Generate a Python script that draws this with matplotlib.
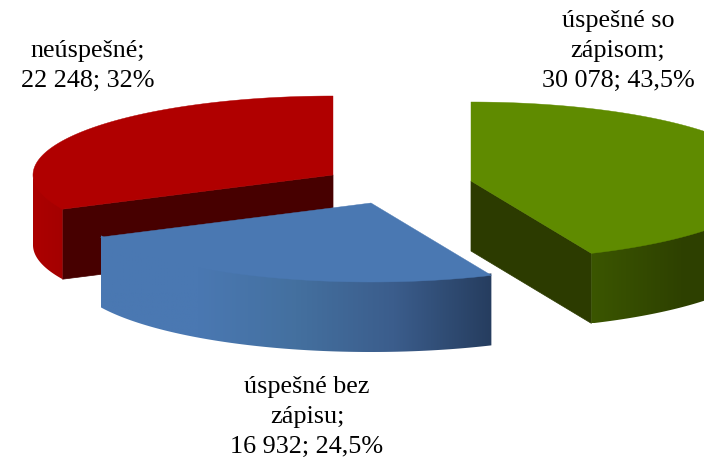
import numpy as np
import matplotlib
matplotlib.use('Agg')
import matplotlib.pyplot as plt
from matplotlib.colors import LinearSegmentedColormap
from matplotlib.patches import Polygon

plt.rcParams['font.family'] = ['Liberation Serif', 'DejaVu Serif']

names = ['úspešné so\nzápisom;', 'úspešné bez\nzápisu;', 'neúspešné;']
values = [30078, 16932, 22248]
value_labels = ['30 078; 43,5%', '16 932; 24,5%', '22 248; 32%']

# look of the slices, same order as values
centers = [(471, 181), (371, 203), (333, 175)]
top_colors = ['#5f8b00', '#4a78b2', '#b00000']
inner_colors = ['#2c3b00', '#263d5f', '#470000']
wall_colors = [['#3b5600', '#2e4100', '#2c3d00'],
               ['#4a78b2', '#4a78b2', '#44709f', '#3b5d8c', '#263d5f'],
               ['#ac0000', '#a80000', '#a40000']]
label_pos = [(618, 10), (307, 376), (88, 40)]

rx = 300
ry = 79
depth = 70


def arc(c, a1, a2, n=200):
    t = np.radians(np.linspace(a1, a2, n))
    return np.column_stack((c[0] + rx*np.cos(t), c[1] - ry*np.sin(t)))


fig = plt.figure(figsize=(7.04, 4.57), dpi=100)
ax = fig.add_axes([0, 0, 1, 1])

# angles run clockwise from straight up
total = sum(values)
sweeps = [v/total*360 for v in values]
starts = 90 - np.cumsum([0] + sweeps[:-1])

# back slice first, blue sits in front of everything
for rank, i in enumerate([2, 0, 1]):
    c = centers[i]
    a1 = starts[i]
    a2 = a1 - sweeps[i]
    pts = arc(c, a1, a2)

    # the radial wall we can see into
    inner_end = {0: a2, 2: a1}.get(i)
    if inner_end is not None:
        e = arc(c, inner_end, inner_end, 1)[0]
        ax.fill([c[0], e[0], e[0], c[0]],
                [c[1], e[1], e[1] + depth, c[1] + depth],
                color=inner_colors[i], lw=0.5, zorder=rank*3 + 1)

    # outer wall, only the front part of the rim
    # starts a bit under the top face so no gap shows along the rim
    t = np.linspace(a1, a2, 200)
    front = pts[np.sin(np.radians(t)) <= 0]
    front = front[np.argsort(front[:, 0])]
    wall = np.vstack((front - [0, 2], front[::-1] + [0, depth]))
    cmap = LinearSegmentedColormap.from_list('wall', wall_colors[i])
    im = ax.imshow(np.linspace(0, 1, 256)[None, :], cmap=cmap, aspect='auto',
                   extent=(front[0, 0], front[-1, 0], wall[:, 1].max(), wall[:, 1].min()),
                   zorder=rank*3 + 2)
    im.set_clip_path(Polygon(wall, transform=ax.transData))

    # top face
    ax.fill(np.r_[c[0], pts[:, 0]], np.r_[c[1], pts[:, 1]],
            color=top_colors[i], lw=0.3, zorder=rank*3 + 3)

    ax.text(label_pos[i][0], label_pos[i][1], names[i] + '\n' + value_labels[i],
            ha='center', va='top', fontsize=18.8, linespacing=1.47,
            color='black', zorder=20)

ax.set_xlim(0, 704)
ax.set_ylim(457, 0)
ax.axis('off')

fig.savefig('out.png', dpi=100)
